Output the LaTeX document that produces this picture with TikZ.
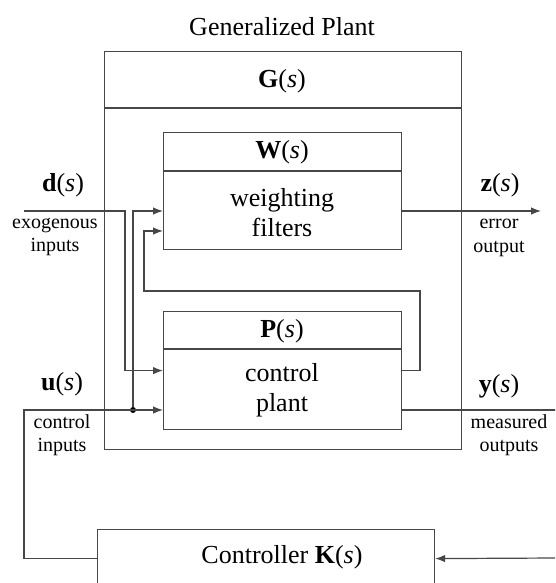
\documentclass[tikz,border=0pt]{standalone}
\usepackage{fontspec}
\setmainfont{Liberation Serif}
\usetikzlibrary{arrows.meta,calc}
\begin{document}
\begin{tikzpicture}[x=1pt,y=-1pt,
  line/.style={draw=black!72,line width=1.2pt},
  arr/.style={line,-{Latex[length=10pt,width=7.5pt]}},
  box/.style={line,rectangle,anchor=north west,inner sep=0pt},
  big/.style={font=\fontsize{26}{30}\selectfont,inner sep=0pt,align=center},
  small/.style={font=\fontsize{20}{23.5}\selectfont,inner sep=0pt,align=center},
  dot/.style={circle,fill=black,inner sep=0pt,minimum size=6pt}]
\clip (0,0) rectangle (555,583);
\fill[white] (0,0) rectangle (555,583);
% boxes
\node[box,minimum width=357pt,minimum height=398pt] (G) at (104,51) {};
\node[box,minimum width=238pt,minimum height=117pt] (W) at (163,132) {};
\node[box,minimum width=238pt,minimum height=118pt] (P) at (163,311) {};
\node[box,minimum width=337pt,minimum height=58pt] (K) at (97,529) {};
\draw[line] (G.west |- 0,108) -- (G.east |- 0,108);
\draw[line] (W.west |- 0,171) -- (W.east |- 0,171);
\draw[line] (P.west |- 0,349) -- (P.east |- 0,349);
% texts
\node[big] (title) at (282,27) {Generalized Plant};
\node[big] (Gl) at (282,81) {\textbf{G}(\textit{s})};
\node[big] (Wl) at (282,152) {\textbf{W}(\textit{s})};
\node[big] (Wt) at (282,213) {weighting\\filters};
\node[big] (Pl) at (282,331) {\textbf{P}(\textit{s})};
\node[big] (Pt) at (282,390) {control\\plant};
\node[big] (Kl) at (282,557) {Controller \textbf{K}(\textit{s})};
\node[big] (dl) at (63,185) {\textbf{d}(\textit{s})};
\node[small] (dt) at (55,237) {exogenous\\inputs};
\node[big] (ul) at (62,384) {\textbf{u}(\textit{s})};
\node[small] (ut) at (62,435) {control\\inputs};
\node[big] (zl) at (500,185) {\textbf{z}(\textit{s})};
\node[small] (zt) at (499,238) {error\\output};
\node[big] (yl) at (499,386) {\textbf{y}(\textit{s})};
\node[small] (yt) at (509,435) {measured\\outputs};
% coordinates
\coordinate (dIn) at (24,211);
\coordinate (zOut) at (541,211);
\coordinate (yOut) at (556,410);
\coordinate (kIn) at (556,558);
\node[dot] (uDot) at (133,410) {};
% connectors
\draw[arr] (dIn) -- (125,211) |- (P.west);
\draw[arr] (K.west) -| (24,410) -- (P.west |- uDot);
\draw[arr] (uDot) |- (W.west |- dIn);
\draw[arr] (P.east) -| (420,291) -| (144,231) -- (W.west |- 0,231);
\draw[arr] (W.east |- zOut) -- (zOut);
\draw[line] (P.east |- yOut) -- (yOut);
\draw[arr] (kIn) -- (K.east);
\end{tikzpicture}
\end{document}
